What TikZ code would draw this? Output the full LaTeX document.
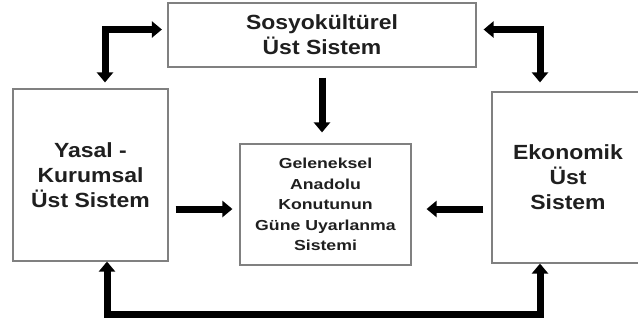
\documentclass[tikz,border=0pt]{standalone}
\usepackage{fontspec}
\setmainfont{Liberation Sans}
\newfontfamily\boxfont{Liberation Sans}[FakeStretch=1.12]
\newfontfamily\innerfont{Liberation Sans}[FakeStretch=1.22]
\usetikzlibrary{arrows.meta}
\tikzset{
  box/.style={draw=black!50, line width=1.2pt, inner sep=0pt, align=center, text=black!88,
    font=\boxfont\bfseries\fontsize{20.5}{25}\selectfont},
  innerbox/.style={box, font=\innerfont\bfseries\fontsize{14.5}{20.5}\selectfont},
  fatarrow/.style={line width=7pt, -{Triangle[width=16pt,length=10pt]}},
  fatdbl/.style={line width=7pt, {Triangle[width=16pt,length=10pt]}-{Triangle[width=16pt,length=10pt]}}
}
\begin{document}
\begin{tikzpicture}[x=1pt, y=-1pt, line join=miter]
	\useasboundingbox (0,0) rectangle (638,322);
	\node[box, minimum width=308pt, minimum height=64pt] (sosyo) at (322,35) {Sosyokültürel\\Üst Sistem};
	\node[box, minimum width=155pt, minimum height=172pt] (yasal) at (90.5,175) {Yasal -\\Kurumsal\\Üst Sistem};
	\node[innerbox, minimum width=171pt, minimum height=121pt] (konut) at (325.5,204.5) {Geleneksel\\Anadolu\\Konutunun\\Güne Uyarlanma\\Sistemi};
	\node[box, minimum width=152pt, minimum height=171pt] (ekonomik) at (568,177.5) {Ekonomik\\Üst\\Sistem};
	\path
	(105,29.5)coordinate(tl)
	(540,29.5)coordinate(tr)
	(107,314)coordinate(bl)
	(540,314)coordinate(br)
	;
	\draw[fatdbl, shorten <=6pt, shorten >=5.5pt] (yasal.north -| tl) -- (tl) -- (sosyo.west |- tl);
	\draw[fatdbl, shorten <=7pt, shorten >=9pt] (sosyo.east |- tr) -- (tr) -- (ekonomik.north -| tr);
	\draw[fatarrow, shorten <=10pt, shorten >=11pt] (sosyo.south) -- (sosyo.south |- konut.north);
	\draw[fatarrow, shorten <=7pt, shorten >=7pt] ([yshift=-34pt]yasal.east) coordinate (la) -- (la -| konut.west);
	\draw[fatarrow, shorten <=8pt, shorten >=15pt] ([yshift=-31.5pt]ekonomik.west) coordinate (ra) -- (ra -| konut.east);
	\draw[fatdbl] (yasal.south -| bl) -- (bl) -- (br) -- (ekonomik.south -| br);
\end{tikzpicture}
\end{document}
